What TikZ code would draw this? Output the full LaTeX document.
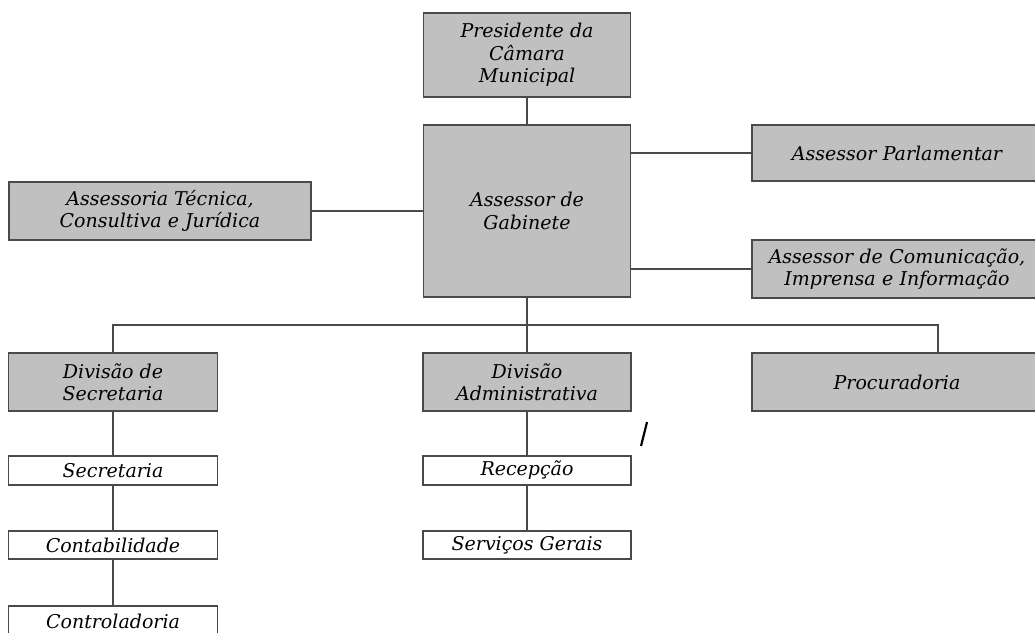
\documentclass[tikz,border=0pt]{standalone}
\usepackage{fontspec}
\setmainfont{DejaVu Serif}
\definecolor{boxgray}{HTML}{C0C0C0}
\definecolor{linegray}{HTML}{4A4A4A}
\begin{document}
\begin{tikzpicture}[x=1pt,y=-1pt,
  every node/.style={font=\itshape\fontsize{19}{22.5}\selectfont, text=black, align=center, inner sep=0pt},
  graybox/.style={draw=linegray, line width=1.3pt, fill=boxgray, rectangle},
  whitebox/.style={draw=linegray, line width=1.3pt, fill=white, rectangle},
  conn/.style={draw=linegray, line width=1.3pt}]
\useasboundingbox (0,0) rectangle (1035,632);
\node[graybox, minimum width=207pt, minimum height=84pt] (pres) at (527,55) {Presidente da\\Câmara\\Municipal};
\node[graybox, minimum width=207pt, minimum height=172pt] (gab) at (527,211) {Assessor de\\Gabinete};
\node[graybox, minimum width=302pt, minimum height=58pt] (tec) at (160,211) {Assessoria Técnica,\\Consultiva e Jurídica};
\node[graybox, minimum width=290pt, minimum height=56pt, text width=280pt] (parl) at (897,153) {Assessor Parlamentar};
\node[graybox, minimum width=290pt, minimum height=58pt, text width=280pt] (com) at (897,269) {Assessor de Comunicação,\\Imprensa e Informação};
\node[graybox, minimum width=209pt, minimum height=58pt] (divsec) at (113,382) {Divisão de\\Secretaria};
\node[graybox, minimum width=208pt, minimum height=58pt] (divadm) at (527,382) {Divisão\\Administrativa};
\node[graybox, minimum width=290pt, minimum height=58pt, text width=280pt] (proc) at (897,382) {Procuradoria};
\node[whitebox, minimum width=209pt, minimum height=29pt] (sec) at (113,470.5) {Secretaria};
\node[whitebox, minimum width=209pt, minimum height=28pt] (cont) at (113,545) {Contabilidade};
\node[whitebox, minimum width=209pt, minimum height=30pt] (ctrl) at (113,621) {Controladoria};
\node[whitebox, minimum width=208pt, minimum height=29pt] (rec) at (527,470.5) {Recepção};
\node[whitebox, minimum width=208pt, minimum height=28pt] (serv) at (527,545) {Serviços Gerais};
\coordinate (bus) at (0,325);
\coordinate (proctop) at (938,353);
\coordinate (slashA) at (647,422);
\coordinate (slashB) at (641,446);
\draw[conn] (pres.south) -- (gab.north);
\draw[conn] (gab.west) -- (tec.east);
\draw[conn] (parl.west -| gab.east) -- (parl.west);
\draw[conn] (com.west -| gab.east) -- (com.west);
\draw[conn] (gab.south) -- (gab.south |- bus);
\draw[conn] (divsec.north) -- (divsec.north |- bus) -- (proctop |- bus) -- (proctop);
\draw[conn] (divadm.north) -- (divadm.north |- bus);
\draw[conn] (divsec) -- (sec);
\draw[conn] (sec) -- (cont);
\draw[conn] (cont) -- (ctrl);
\draw[conn] (divadm) -- (rec);
\draw[conn] (rec) -- (serv);
\draw[black, line width=2.2pt] (slashA) -- (slashB);
\end{tikzpicture}
\end{document}
